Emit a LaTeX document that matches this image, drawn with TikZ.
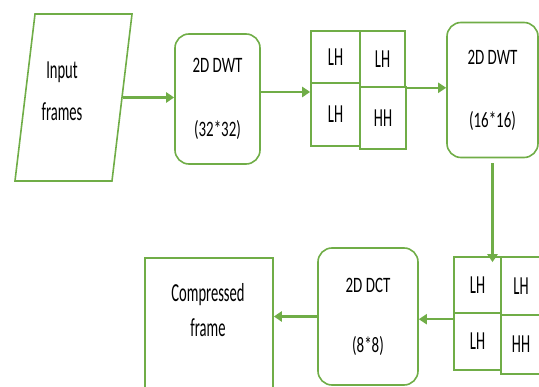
\documentclass[tikz,border=0pt]{standalone}
\usepackage{fontspec}
\setmainfont{Carlito}
\newfontfamily\stagefont[FakeStretch=0.68]{Carlito}
\newfontfamily\bigfont[FakeStretch=0.56]{Carlito}
\usetikzlibrary{arrows.meta}
\definecolor{boxgreen}{RGB}{112,173,71}

\begin{document}
\begin{tikzpicture}[
    x=1pt, y=-1pt,
    >={Triangle[length=8pt,width=10pt]},
    line width=1.6pt,
    stage/.style={draw=boxgreen, rounded corners=14pt, align=center, inner sep=0pt,
                  font=\stagefont\fontsize{22}{26}\selectfont},
    cell/.style={draw=boxgreen, inner sep=0pt, font=\bigfont\fontsize{26}{30}\selectfont},
    caption/.style={align=center, font=\bigfont\fontsize{26}{30}\selectfont},
    flow/.style={->, draw=boxgreen, line width=2.2pt}
]

    % Page frame (same size as the reference)
    \useasboundingbox (0,0) rectangle (539,387);

    % Input frames: a slanted box, text set a bit to the left
    \begin{scope}[shift={(73.5,97.5)}, xslant=0.12]
        \node[draw=boxgreen, transform shape, minimum width=97pt, minimum height=167pt] (input) at (0,0) {};
    \end{scope}
    \node[caption] (inputtxt) at (62,91) {Input\\[12pt]frames};

    % Transform stages
    \node[stage, minimum width=85pt, minimum height=130pt] (dwt1) at (217.5,99) {2D DWT\\[38pt](32*32)};
    \node[stage, minimum width=91pt, minimum height=135pt] (dwt2) at (492.5,90) {2D DWT\\[37pt](16*16)};
    \node[stage, minimum width=100pt, minimum height=137pt] (dct) at (368,316.5) {2D DCT\\[34pt](8*8)};

    % Sub-band grids (s1 = after first DWT, s2 = after second DWT)
    \foreach \name/\cx/\cy/\w/\h/\band in {
        s1tl/335.5/57/49/52/LH, s1tr/382.5/59/45/56/LH,
        s1bl/335.5/114.5/49/63/LH, s1br/383/118/46/62/HH,
        s2tl/477.5/285/47/56/LH, s2tr/521/286/40/58/LH,
        s2bl/477.5/341.5/47/57/LH, s2br/521/344.5/40/59/HH} {
        \node[cell, minimum width=\w pt, minimum height=\h pt] (\name) at (\cx,\cy) {\band};
    }

    % Output box runs past the bottom edge
    \node[cell, minimum width=128pt, minimum height=142pt] (output) at (209,329) {};
    \node[caption] (outputtxt) at (208,310) {Compressed\\[5pt]frame};

    % Flow
    \draw[flow] (input.east) -- (input.east -| dwt1.west);
    \draw[flow] ([yshift=7pt]dwt1.east) -- ([yshift=7pt]dwt1.east -| s1bl.west);
    \draw[flow] (s1tr.south east) -- (s1tr.south east -| dwt2.west);
    \draw[flow, shorten <=5pt] (dwt2.south) -- ([yshift=-6pt]dwt2.south |- s2tl.north);
    \draw[flow] ([yshift=-7pt]s2bl.north west) -- ([yshift=-7pt]s2bl.north west -| dct.east);
    \draw[flow] (dct.west) -- (dct.west -| output.east);

\end{tikzpicture}
\end{document}
